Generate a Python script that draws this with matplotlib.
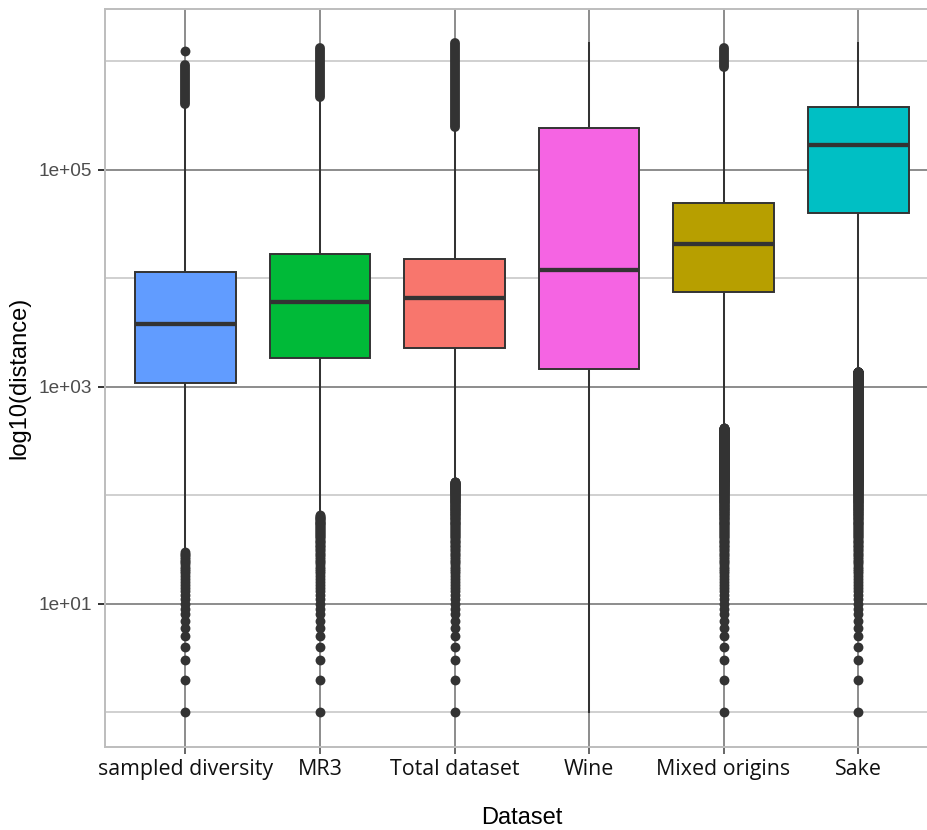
import numpy as np
import matplotlib.pyplot as plt
from matplotlib.ticker import FixedLocator, NullFormatter


datasets = ["sampled diversity", "MR3", "Total dataset", "Wine", "Mixed origins", "Sake"]
fills = ["#619CFF", "#00BA38", "#F8766D", "#F564E3", "#B79F00", "#00BFC4"]

# box stats
q1 = [1080, 1850, 2290, 1470, 7510, 39900]
median = [3810, 6070, 6610, 11970, 20800, 169000]
q3 = [11300, 16800, 15000, 244000, 49300, 378000]
whisker_low = [31, 66, 134, 1, 415, 1380]
whisker_high = [4.0e5, 4.7e5, 2.46e5, 1.48e6, 8.8e5, 1.48e6]

# low outliers are integer distances 1..N (0 = none)
low_outlier_max = [30, 65, 133, 0, 414, 1375]
# high outliers: dense runs (lowest, highest) and lone points
high_outlier_runs = [[(4.0e5, 9.2e5)], [(4.7e5, 1.33e6)], [(2.46e5, 1.46e6)], [], [(8.8e5, 1.33e6)], []]
high_outlier_single = [[1.25e6], [], [], [], [], []]

ytick_vals = [1e1, 1e3, 1e5]
ytick_labels = ["1e+01", "1e+03", "1e+05"]
yminor_vals = [1e0, 1e2, 1e4, 1e6]


fig = plt.figure(figsize=(9.27, 8.3), dpi=100)
ax = fig.add_axes([0.1130, 0.10036, 0.8997, 0.8888])

dark = "#333333"
pos = np.arange(1, len(datasets) + 1)

stats = []
for i in range(len(datasets)):
    stats.append(dict(med=median[i], q1=q1[i], q3=q3[i],
                      whislo=whisker_low[i], whishi=whisker_high[i],
                      fliers=[], label=datasets[i]))

bp = ax.bxp(stats, positions=pos, widths=0.75, patch_artist=True,
            showfliers=False, showcaps=False,
            boxprops=dict(edgecolor=dark, linewidth=1.4),
            medianprops=dict(color=dark, linewidth=3.1, solid_capstyle='butt'),
            whiskerprops=dict(color=dark, linewidth=1.45))
for patch, c in zip(bp['boxes'], fills):
    patch.set_facecolor(c)
    patch.set_zorder(3)
for m in bp['medians']:
    m.set_zorder(4)
for w in bp['whiskers']:
    w.set_zorder(2)

# outliers
msize = 7.1
for i, x in enumerate(pos):
    if low_outlier_max[i] > 0:
        vals = np.arange(1, low_outlier_max[i] + 1)
        ax.plot(np.full(len(vals), x), vals, 'o', color=dark, markersize=msize,
                markeredgewidth=0, zorder=5)
    for lo, hi in high_outlier_runs[i]:
        ax.plot([x, x], [lo, hi], color=dark, linewidth=msize,
                solid_capstyle='round', zorder=5)
    for v in high_outlier_single[i]:
        ax.plot([x], [v], 'o', color=dark, markersize=msize, markeredgewidth=0, zorder=5)

ax.set_yscale('log')
ax.set_ylim(10 ** -0.318, 10 ** 6.481)
ax.set_xlim(0.4, 6.6)

ax.yaxis.set_major_locator(FixedLocator(ytick_vals))
ax.set_yticklabels(ytick_labels)
ax.yaxis.set_minor_locator(FixedLocator(yminor_vals))
ax.yaxis.set_minor_formatter(NullFormatter())
ax.set_xticks(pos)
ax.set_xticklabels(datasets, fontfamily='Open Sans', fontsize=15.4, color='#111111')

ax.set_axisbelow(True)
ax.grid(which='major', color='#8c8c8c', linewidth=1.4)
ax.grid(which='minor', axis='y', color='#d0d0d0', linewidth=1.4)

ax.tick_params(axis='y', which='major', length=5, width=1.4, color=dark,
               labelsize=13.7, labelcolor='#4d4d4d', pad=4)
ax.tick_params(axis='x', which='major', length=5, width=1.4, color='#666666', pad=4)
ax.tick_params(which='minor', length=0)
for lab in ax.get_yticklabels():
    lab.set_fontfamily('Liberation Sans')

for s in ax.spines.values():
    s.set_color('#bdbdbd')
    s.set_linewidth(1.4)

ax.set_xlabel("Dataset", fontfamily='Liberation Sans', fontsize=17, color='black')
ax.set_ylabel("log10(distance)", fontfamily='Liberation Sans', fontsize=17, color='black')
ax.xaxis.set_label_coords(0.5, -0.082)
ax.yaxis.set_label_coords(-0.089, 0.5)

fig.savefig("out.png", dpi=100)
